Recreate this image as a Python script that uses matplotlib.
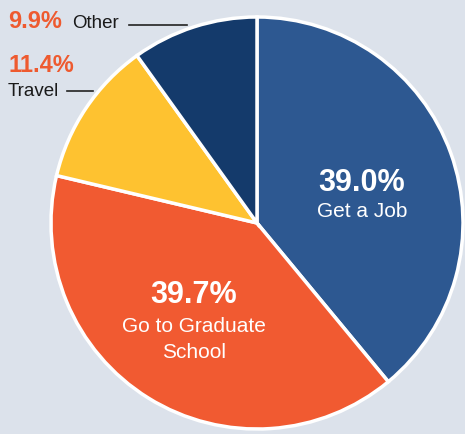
import matplotlib
matplotlib.use('Agg')
import matplotlib.pyplot as plt

# shares of graduates' plans (clockwise from top)
labels = ['Get a Job', 'Go to Graduate', 'School', 'Travel', 'Other']
shares = [39.0, 39.7, 11.4, 9.9]
colors = ['#2d5891', '#f15a31', '#fec230', '#143a6b']

bg = '#dce2eb'
orange = '#ee5a2f'

plt.rcParams['font.family'] = ['Liberation Sans', 'DejaVu Sans']

fig = plt.figure(figsize=(4.65, 4.35), dpi=100, facecolor=bg)
ax = fig.add_axes([0, 0, 1, 1])
ax.set_facecolor(bg)

H = 435
ax.pie(shares, colors=colors, startangle=90, counterclock=False,
       center=(257, H - 224), radius=206,
       wedgeprops=dict(edgecolor='white', linewidth=2.5))
ax.set_xlim(0, 465)
ax.set_ylim(0, H)
ax.set_aspect('equal')
ax.axis('off')

# labels inside the big wedges
ax.text(362, H - 183, f'{shares[0]:.1f}%', color='white', fontsize=22,
        fontweight='bold', ha='center', va='center')
ax.text(362, H - 212, labels[0], color='white', fontsize=15,
        ha='center', va='center')
ax.text(194, H - 295, f'{shares[1]:.1f}%', color='white', fontsize=22,
        fontweight='bold', ha='center', va='center')
ax.text(194, H - 327, labels[1], color='white', fontsize=15,
        ha='center', va='center')
ax.text(194, H - 353, labels[2], color='white', fontsize=15,
        ha='center', va='center')

# outside labels for the small wedges
ax.text(8, H - 21, f'{shares[3]:.1f}%', color=orange, fontsize=17,
        fontweight='bold', ha='left', va='center')
ax.text(72, H - 23, labels[4], color='#1a1a1a', fontsize=13.5,
        ha='left', va='center')
ax.plot([129, 187], [H - 26, H - 26], color='#222222', lw=1.2)

ax.text(8, H - 65, f'{shares[2]:.1f}%', color=orange, fontsize=17,
        fontweight='bold', ha='left', va='center')
ax.text(8, H - 91, labels[3], color='#1a1a1a', fontsize=13.5,
        ha='left', va='center')
ax.plot([67, 93], [H - 92, H - 92], color='#222222', lw=1.2)

fig.savefig('out.png', dpi=100, facecolor=bg)
